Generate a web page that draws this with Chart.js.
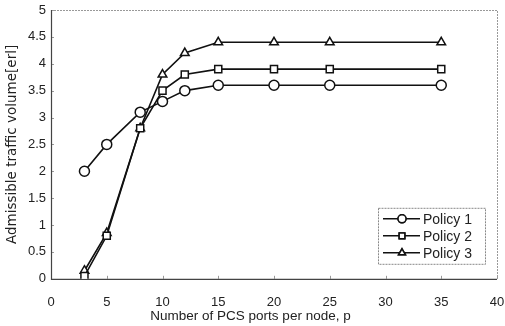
<!DOCTYPE html>
<html>
<head>
<meta charset="utf-8">
<script src="https://cdn.jsdelivr.net/npm/chart.js@4"></script>
<style>
  html, body { margin:0; padding:0; background:#fff; }
  #wrap { width:505px; height:326px; }
</style>
</head>
<body>
<div id="wrap"><canvas id="chart" width="505" height="326"></canvas></div>
<script>
// data
const ports = [3, 5, 8, 10, 12, 15, 20, 25, 35];
const policy1 = [2.0, 2.5, 3.1, 3.3, 3.5, 3.6, 3.6, 3.6, 3.6];
const policy2 = [0.05, 0.8, 2.8, 3.5, 3.8, 3.9, 3.9, 3.9, 3.9];
const policy3 = [0.15, 0.85, 2.8, 3.8, 4.2, 4.4, 4.4, 4.4, 4.4];
const seriesNames = ['Policy 1', 'Policy 2', 'Policy 3'];
const markers = ['circle', 'rect', 'triangle'];

const FONT = 'Liberation Sans, Arial, sans-serif';
const WIDE = 'DejaVu Sans, sans-serif';

function toXY(ys){ return ports.map((x,i)=>({ x, y: ys[i] })); }

function mkSet(label, ys, style){
  return {
    label, data: toXY(ys),
    borderColor:'#111', borderWidth:1.6,
    pointStyle: style, pointRadius: 5,
    pointBackgroundColor:'#fff', pointBorderColor:'#111', pointBorderWidth:1.5,
    tension:0
  };
}

// 枠線（上・右は点線）＋内向きの小さな目盛り
const framePlugin = {
  id:'frame',
  beforeDatasetsDraw(c){
    const { ctx, chartArea:a, scales } = c;
    ctx.save();
    ctx.strokeStyle = '#999'; ctx.lineWidth = 1; ctx.setLineDash([2,1]);
    ctx.beginPath();
    ctx.moveTo(a.left, a.top + 0.5); ctx.lineTo(a.right + 0.5, a.top + 0.5); ctx.lineTo(a.right + 0.5, a.bottom);
    ctx.stroke();
    ctx.setLineDash([]);
    ctx.strokeStyle = '#999'; ctx.lineWidth = 1;
    ctx.beginPath();
    scales.x.ticks.forEach(t => { const px = Math.round(scales.x.getPixelForValue(t.value)) + 0.5; ctx.moveTo(px, a.bottom); ctx.lineTo(px, a.bottom - 3); });
    scales.y.ticks.forEach(t => { const py = Math.round(scales.y.getPixelForValue(t.value)) + 0.5; ctx.moveTo(a.left, py); ctx.lineTo(a.left + 3, py); });
    ctx.stroke();
    ctx.strokeStyle = '#444'; ctx.lineWidth = 1.2;
    ctx.beginPath();
    ctx.moveTo(a.left + 0.5, a.top); ctx.lineTo(a.left + 0.5, a.bottom + 0.5); ctx.lineTo(a.right, a.bottom + 0.5);
    ctx.stroke();
    ctx.restore();
  }
};

// 凡例（線＋マーカー）
const legendPlugin = {
  id:'boxLegend',
  afterDraw(c){
    const { ctx, chartArea:a } = c;
    const x0 = a.right - 119, y0 = a.bottom - 71, w = 107, h = 56;
    ctx.save();
    ctx.fillStyle = '#fff'; ctx.fillRect(x0, y0, w, h);
    ctx.strokeStyle = '#888'; ctx.lineWidth = 1; ctx.setLineDash([2,1]);
    ctx.strokeRect(x0 + 0.5, y0 + 0.5, w, h);
    ctx.setLineDash([]);
    ctx.font = '14px ' + FONT; ctx.textBaseline = 'middle'; ctx.fillStyle = '#222';
    c.data.datasets.forEach((ds, i) => {
      const y = y0 + 11 + i * 17;
      ctx.strokeStyle = '#111'; ctx.lineWidth = 1.6;
      ctx.beginPath(); ctx.moveTo(x0 + 5, y); ctx.lineTo(x0 + 42, y); ctx.stroke();
      ctx.fillStyle = '#fff'; ctx.lineWidth = 1.5;
      Chart.helpers.drawPoint(ctx, { pointStyle: ds.pointStyle, radius: 4, borderWidth: 1.5 }, x0 + 24, y);
      ctx.fill(); ctx.stroke();
      ctx.fillStyle = '#222';
      ctx.fillText(ds.label, x0 + 45, y + 1);
    });
    ctx.restore();
  }
};

new Chart(document.getElementById('chart'), {
  type:'line',
  data:{ datasets:[
    mkSet(seriesNames[0], policy1, markers[0]),
    mkSet(seriesNames[1], policy2, markers[1]),
    mkSet(seriesNames[2], policy3, markers[2])
  ]},
  options:{
    animation:false, responsive:false,
    layout:{ autoPadding:false, padding:{ top:10, right:8, left:4, bottom:0 } },
    plugins:{
      legend:{ display:false }, tooltip:{ enabled:false },
      title:{ display:true, position:'bottom', text:'Number of PCS ports per node, p', color:'#222',
              font:{ family:FONT, size:13.5, weight:'normal' }, padding:{ top:0, bottom:2 } }
    },
    scales:{
      x:{ type:'linear', min:0, max:40,
          afterFit: s => { s.height = 29; s.paddingRight = 0; s.paddingLeft = 0; },
          ticks:{ stepSize:5, color:'#222', font:{ family:FONT, size:13 }, padding:16, callback: v => String(v) },
          grid:{ display:false, drawTicks:false }, border:{ display:false } },
      y:{ min:0, max:5,
          afterFit: s => { s.width = 47; s.paddingTop = 0; s.paddingBottom = 0; },
          ticks:{ stepSize:0.5, color:'#222', font:{ family:FONT, size:13 }, padding:5, callback: v => String(v) },
          grid:{ display:false, drawTicks:false }, border:{ display:false },
          title:{ display:true, text:'Admissible traffic volume[erl]', color:'#222', font:{ family:WIDE, size:13.5 }, padding:{ top:0, bottom:0 } } }
    }
  },
  plugins:[framePlugin, legendPlugin]
});
</script>
</body>
</html>
